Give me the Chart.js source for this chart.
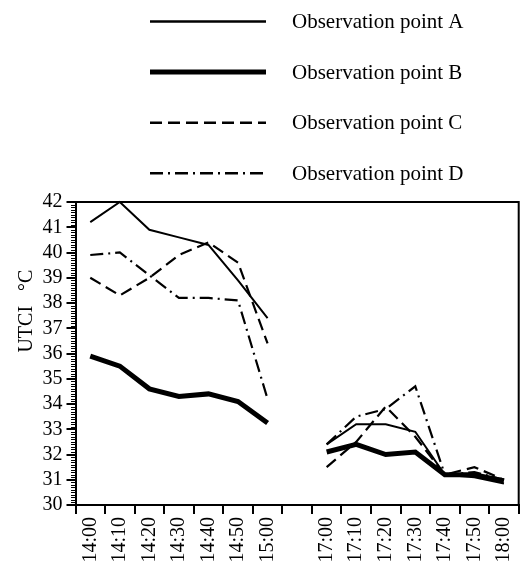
<!DOCTYPE html>
<html><head><meta charset="utf-8">
<script src="https://cdn.jsdelivr.net/npm/chart.js@4"></script>
<style>html,body{margin:0;padding:0;background:#fff}#wrap{width:531px;height:569px;position:relative}</style>
</head><body><div id="wrap"><canvas id="c"></canvas></div>
<script>
// ---- data ----
const categories = ['14:00','14:10','14:20','14:30','14:40','14:50','15:00','',
                    '17:00','17:10','17:20','17:30','17:40','17:50','18:00'];
const seriesNames = ['Observation point A','Observation point B','Observation point C','Observation point D'];
const pointA = [41.2, 42.0, 40.9, 40.6, 40.3, 38.9, 37.4, null, 32.4, 33.2, 33.2, 32.9, 31.2, 31.1, 30.85];
const pointB = [35.9, 35.5, 34.6, 34.3, 34.4, 34.1, 33.25, null, 32.1, 32.4, 32.0, 32.1, 31.2, 31.2, 30.95];
const pointC = [39.0, 38.3, 39.0, 39.9, 40.4, 39.6, 36.4, null, 31.5, 32.5, 33.9, 32.7, 31.2, 31.5, 31.0];
const pointD = [39.9, 40.0, 39.1, 38.2, 38.2, 38.1, 34.2, null, 32.4, 33.5, 33.8, 34.7, 31.2, 31.3, 31.0];
const yTitle = 'UTCI   \u00B0C';
const yMin = 30, yMax = 42, yStep = 1, yMinorStep = 0.1;

const FONT = '"Liberation Serif", "Times New Roman", serif';

const styles = [
  {borderWidth: 2,   borderDash: []},
  {borderWidth: 5,   borderDash: []},
  {borderWidth: 2.2, borderDash: [12, 6]},
  {borderWidth: 2.2, borderDash: [13, 5, 2, 5]}
];
const values = [pointA, pointB, pointC, pointD];

const datasets = seriesNames.map((name, i) => ({
  label: name,
  data: values[i],
  borderColor: '#000',
  backgroundColor: '#000',
  borderWidth: styles[i].borderWidth,
  borderDash: styles[i].borderDash,
  pointRadius: 0,
  pointHoverRadius: 0,
  tension: 0,
  fill: false,
  spanGaps: false,
  borderJoinStyle: 'miter',
  clip: 4
}));

const decorPlugin = {
  id: 'decor',
  afterDraw(chart) {
    const ctx = chart.ctx;
    const ca = chart.chartArea;
    const y = chart.scales.y;
    ctx.save();
    // frame top + right
    ctx.strokeStyle = '#000';
    ctx.lineWidth = 2;
    ctx.setLineDash([]);
    ctx.beginPath();
    ctx.moveTo(ca.left - 1, ca.top);
    ctx.lineTo(ca.right, ca.top);
    ctx.lineTo(ca.right, ca.bottom + 1);
    ctx.stroke();
    // minor ticks on y axis
    ctx.lineWidth = 1;
    ctx.beginPath();
    const n = Math.round((yMax - yMin) / yMinorStep);
    for (let k = 0; k <= n; k++) {
      if (k % 10 === 0) continue;
      const v = yMin + k * yMinorStep;
      const py = Math.round(y.getPixelForValue(v)) + 0.5;
      ctx.moveTo(ca.left - 4.5, py);
      ctx.lineTo(ca.left, py);
    }
    ctx.stroke();
    // y title
    ctx.fillStyle = '#000';
    ctx.font = '20px ' + FONT;
    ctx.textAlign = 'center';
    ctx.textBaseline = 'middle';
    ctx.translate(27, ca.top + (ca.bottom - ca.top) * 0.36);
    ctx.rotate(-Math.PI / 2);
    ctx.fillText(yTitle, 0, 0);
    ctx.restore();

    // legend
    ctx.save();
    ctx.font = '21px ' + FONT;
    ctx.fillStyle = '#000';
    ctx.textAlign = 'left';
    ctx.textBaseline = 'middle';
    chart.data.datasets.forEach((ds, i) => {
      const ly = 21.5 + i * 50.6;
      ctx.strokeStyle = ds.borderColor;
      ctx.lineWidth = i === 1 ? 5 : 2.5;
      ctx.setLineDash(ds.borderDash || []);
      ctx.beginPath();
      ctx.moveTo(150, ly);
      ctx.lineTo(266, ly);
      ctx.stroke();
      ctx.fillText(ds.label, 292, ly + 1);
    });
    ctx.restore();
  }
};

new Chart(document.getElementById('c'), {
  type: 'line',
  data: { labels: categories, datasets },
  plugins: [decorPlugin],
  options: {
    responsive: true,
    maintainAspectRatio: false,
    animation: false,
    events: [],
    layout: { padding: { top: 202, right: 2, left: 0, bottom: 0 } },
    plugins: { legend: { display: false }, tooltip: { enabled: false } },
    scales: {
      x: {
        type: 'category',
        offset: true,
        afterFit(scale) { scale.height = 64; },
        grid: { display: true, offset: true, drawOnChartArea: false, drawTicks: true, tickLength: 9, color: '#000', lineWidth: 2 },
        border: { display: true, color: '#000', width: 2 },
        ticks: { autoSkip: false, maxRotation: 90, minRotation: 90, padding: 3, color: '#000', font: { family: FONT, size: 20 } }
      },
      y: {
        min: yMin, max: yMax,
        afterFit(scale) { scale.width = 75.5; },
        grid: { display: true, drawOnChartArea: false, drawTicks: true, tickLength: 9, color: '#000', lineWidth: 2 },
        border: { display: true, color: '#000', width: 2 },
        ticks: { stepSize: yStep, autoSkip: false, padding: 4, color: '#000', font: { family: FONT, size: 20 } }
      }
    }
  }
});
</script>
</body></html>
